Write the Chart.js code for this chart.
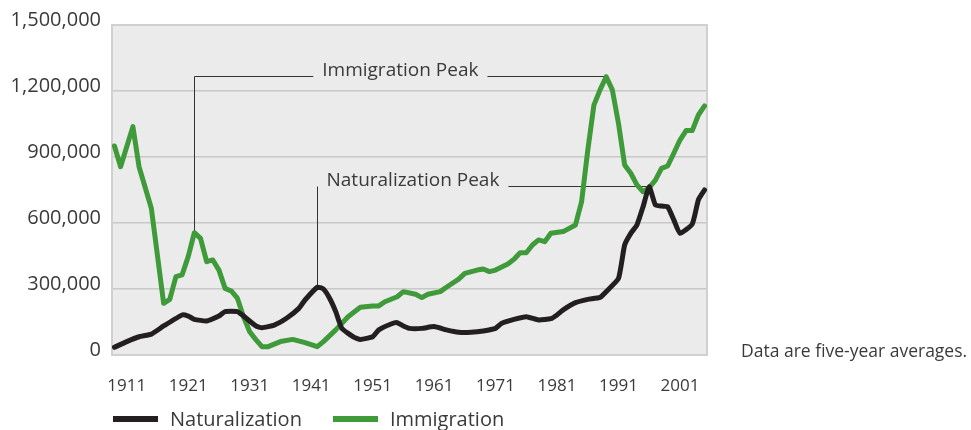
<!DOCTYPE html>
<html>
<head>
<meta charset="utf-8">
<title>Naturalization and Immigration</title>
<script src="https://cdn.jsdelivr.net/npm/chart.js@4.4.1/dist/chart.umd.min.js"></script>
<style>
    html, body { margin: 0; padding: 0; background: #fff; }
    #wrap { position: relative; width: 971px; height: 430px; font-family: "Open Sans", sans-serif; color: #3a3a3a; }
    #chart { position: absolute; left: 0; top: 0; }
    #note { position: absolute; left: 741px; top: 338px; font-size: 17.5px; white-space: nowrap; }
    #legend { position: absolute; left: 113px; top: 405px; display: flex; align-items: center; font-size: 20px; }
    .item { display: flex; align-items: center; margin-right: 31px; }
    .swatch { width: 45px; height: 6px; margin-right: 12px; }
</style>
</head>
<body>
<div id="wrap">
    <canvas id="chart" width="971" height="430"></canvas>
    <div id="note">Data are five-year averages.</div>
    <div id="legend"></div>
</div>
<script>
// ===== DATA (five-year averages) =====
const tickYears = [1911, 1921, 1931, 1941, 1951, 1961, 1971, 1981, 1991, 2001];
const yTicks = [0, 300000, 600000, 900000, 1200000, 1500000];

const naturalizationYears = [1909, 1911, 1913, 1915, 1917, 1920, 1921, 1922, 1924, 1926,
    1927, 1929, 1930, 1932, 1933, 1935, 1937, 1939, 1940, 1942,
    1943, 1944, 1945, 1946, 1948, 1949, 1951, 1952, 1954, 1955,
    1956, 1957, 1959, 1961, 1963, 1965, 1967, 1969, 1971, 1972,
    1974, 1976, 1978, 1980, 1981, 1982, 1984, 1986, 1988, 1989,
    1991, 1992, 1993, 1994, 1995, 1996, 1997, 1998, 1999, 2000,
    2001, 2003, 2004, 2005];
const naturalizationValues = [35000, 61000, 83000, 95000, 132000, 182000, 177000, 162000, 155000, 177000,
    197000, 197000, 177000, 132000, 124000, 136000, 167000, 212000, 250000, 308000,
    300000, 258000, 197000, 121000, 80000, 71000, 83000, 114000, 141000, 147000,
    132000, 121000, 121000, 129000, 114000, 103000, 103000, 109000, 121000, 144000,
    162000, 174000, 159000, 165000, 182000, 205000, 238000, 253000, 262000, 288000,
    348000, 500000, 553000, 591000, 674000, 765000, 682000, 677000, 674000, 614000,
    553000, 595000, 705000, 750000];

const immigrationYears = [1909, 1910, 1912, 1913, 1915, 1917, 1918, 1919, 1920, 1921,
    1922, 1923, 1924, 1925, 1926, 1927, 1928, 1929, 1930, 1931,
    1932, 1933, 1934, 1936, 1938, 1940, 1942, 1943, 1945, 1947,
    1949, 1951, 1952, 1953, 1955, 1956, 1958, 1959, 1960, 1962,
    1963, 1965, 1966, 1968, 1969, 1970, 1971, 1973, 1974, 1975,
    1976, 1977, 1978, 1979, 1980, 1982, 1984, 1985, 1986, 1987,
    1988, 1989, 1990, 1991, 1992, 1993, 1994, 1995, 1996, 1997,
    1998, 1999, 2000, 2001, 2002, 2003, 2004, 2005];
const immigrationValues = [950000, 856000, 1038000, 856000, 667000, 235000, 253000, 356000, 364000, 447000,
    556000, 530000, 424000, 432000, 386000, 303000, 291000, 258000, 174000, 106000,
    70000, 38000, 38000, 61000, 71000, 56000, 38000, 61000, 114000, 174000,
    217000, 223000, 223000, 242000, 265000, 288000, 276000, 261000, 276000, 288000,
    308000, 345000, 371000, 386000, 391000, 379000, 386000, 414000, 435000, 465000,
    465000, 500000, 523000, 515000, 553000, 561000, 591000, 697000, 930000, 1136000,
    1205000, 1265000, 1205000, 1053000, 864000, 826000, 773000, 742000, 761000, 795000,
    848000, 859000, 917000, 977000, 1020000, 1020000, 1091000, 1132000];

// peak call-outs: [label, dataset index, year of the earlier bump, year of the peak]
const peakNotes = [
    ['Immigration Peak', 1, 1922, 1989],
    ['Naturalization Peak', 0, 1942, 1996]
];

const COLORS = {
    naturalization: '#231f20',
    immigration: '#3f9a3a',
    plotBg: '#ebebeb',
    grid: '#c8c8c8',
    text: '#3a3a3a'
};
const FONT = '"Open Sans", sans-serif';

function toPoints(xs, ys) {
    return xs.map((x, i) => ({ x: x, y: ys[i] }));
}

// gray plot panel with a thin frame
const plotPanel = {
    id: 'plotPanel',
    beforeDraw(chart) {
        const a = chart.chartArea;
        const ctx = chart.ctx;
        ctx.save();
        ctx.fillStyle = COLORS.plotBg;
        ctx.fillRect(a.left, a.top, a.right - a.left, a.bottom - a.top);
        ctx.restore();
    },
    beforeDatasetsDraw(chart) {
        const a = chart.chartArea;
        const ctx = chart.ctx;
        ctx.save();
        ctx.strokeStyle = '#d0d0d0';
        ctx.lineWidth = 2;
        ctx.strokeRect(a.left, a.top, a.right - a.left, a.bottom - a.top);
        ctx.restore();
    }
};

// leader lines and labels for the two peaks
const peakCallouts = {
    id: 'peakCallouts',
    beforeDatasetsDraw(chart) {
        const ctx = chart.ctx;
        const xs = chart.scales.x;
        const ys = chart.scales.y;
        ctx.save();
        ctx.font = '19px ' + FONT;
        ctx.fillStyle = COLORS.text;
        ctx.strokeStyle = '#333';
        ctx.lineWidth = 1;
        ctx.textBaseline = 'middle';

        peakNotes.forEach(([text, dsIndex, bumpYear, peakYear], n) => {
            const pts = chart.data.datasets[dsIndex].data;
            const bump = pts.find(p => p.x === bumpYear);
            const peak = pts.find(p => p.x === peakYear);
            const bx = Math.round(xs.getPixelForValue(bump.x)) + 0.5;
            const by = ys.getPixelForValue(bump.y);
            const px = xs.getPixelForValue(peak.x);
            const lineY = Math.round(ys.getPixelForValue(peak.y)) - 0.5;
            const w = ctx.measureText(text).width;

            ctx.beginPath();
            ctx.moveTo(bx, by);
            ctx.lineTo(bx, lineY);
            let textLeft;
            if (n === 0) {
                // elbow: vertical then across to the label, label centred between both points
                textLeft = (bx + px) / 2 - w / 2;
                ctx.lineTo(textLeft - 9, lineY);
            } else {
                textLeft = bx + 9;
            }
            ctx.moveTo(textLeft + w + 9, lineY);
            ctx.lineTo(px, lineY);
            ctx.stroke();

            ctx.textAlign = 'left';
            ctx.fillText(text, textLeft, lineY - 6);
        });
        ctx.restore();
    }
};

const chart = new Chart(document.getElementById('chart'), {
    type: 'line',
    data: {
        datasets: [{
            label: 'Naturalization',
            data: toPoints(naturalizationYears, naturalizationValues),
            borderColor: COLORS.naturalization,
            backgroundColor: COLORS.naturalization,
            borderWidth: 5,
            pointRadius: 0,
            tension: 0.15,
            borderJoinStyle: 'round',
            borderCapStyle: 'round'
        }, {
            label: 'Immigration',
            data: toPoints(immigrationYears, immigrationValues),
            borderColor: COLORS.immigration,
            backgroundColor: COLORS.immigration,
            borderWidth: 5,
            pointRadius: 0,
            tension: 0,
            borderJoinStyle: 'round',
            borderCapStyle: 'round'
        }]
    },
    options: {
        responsive: false,
        animation: false,
        devicePixelRatio: 1,
        layout: { padding: { left: 0, right: 264, top: 25, bottom: 0 } },
        plugins: {
            legend: { display: false },
            tooltip: { enabled: false }
        },
        scales: {
            x: {
                type: 'linear',
                min: 1908.6,
                max: 2005.4,
                afterBuildTicks: (s) => { s.ticks = tickYears.map(v => ({ value: v })); },
                afterFit: (s) => { s.height = 75; },
                grid: { display: false },
                border: { display: false },
                ticks: {
                    color: COLORS.text,
                    font: { family: FONT, size: 17 },
                    padding: 13,
                    maxRotation: 0,
                    autoSkip: false,
                    callback: (v) => String(v)
                }
            },
            y: {
                min: 0,
                max: 1500000,
                afterBuildTicks: (s) => { s.ticks = yTicks.map(v => ({ value: v })); },
                afterFit: (s) => { s.width = 112; },
                grid: { color: COLORS.grid, lineWidth: 1.5, drawTicks: false },
                border: { display: false },
                ticks: {
                    color: COLORS.text,
                    font: { family: FONT, size: 20 },
                    padding: 11,
                    labelOffset: -5,
                    callback: (v) => v.toLocaleString('en-US')
                }
            }
        }
    },
    plugins: [plotPanel, peakCallouts]
});

// legend built from the datasets
const legend = document.getElementById('legend');
chart.data.datasets.forEach(ds => {
    const item = document.createElement('div');
    item.className = 'item';
    const sw = document.createElement('span');
    sw.className = 'swatch';
    sw.style.background = ds.borderColor;
    const label = document.createElement('span');
    label.textContent = ds.label;
    item.appendChild(sw);
    item.appendChild(label);
    legend.appendChild(item);
});
</script>
</body>
</html>
